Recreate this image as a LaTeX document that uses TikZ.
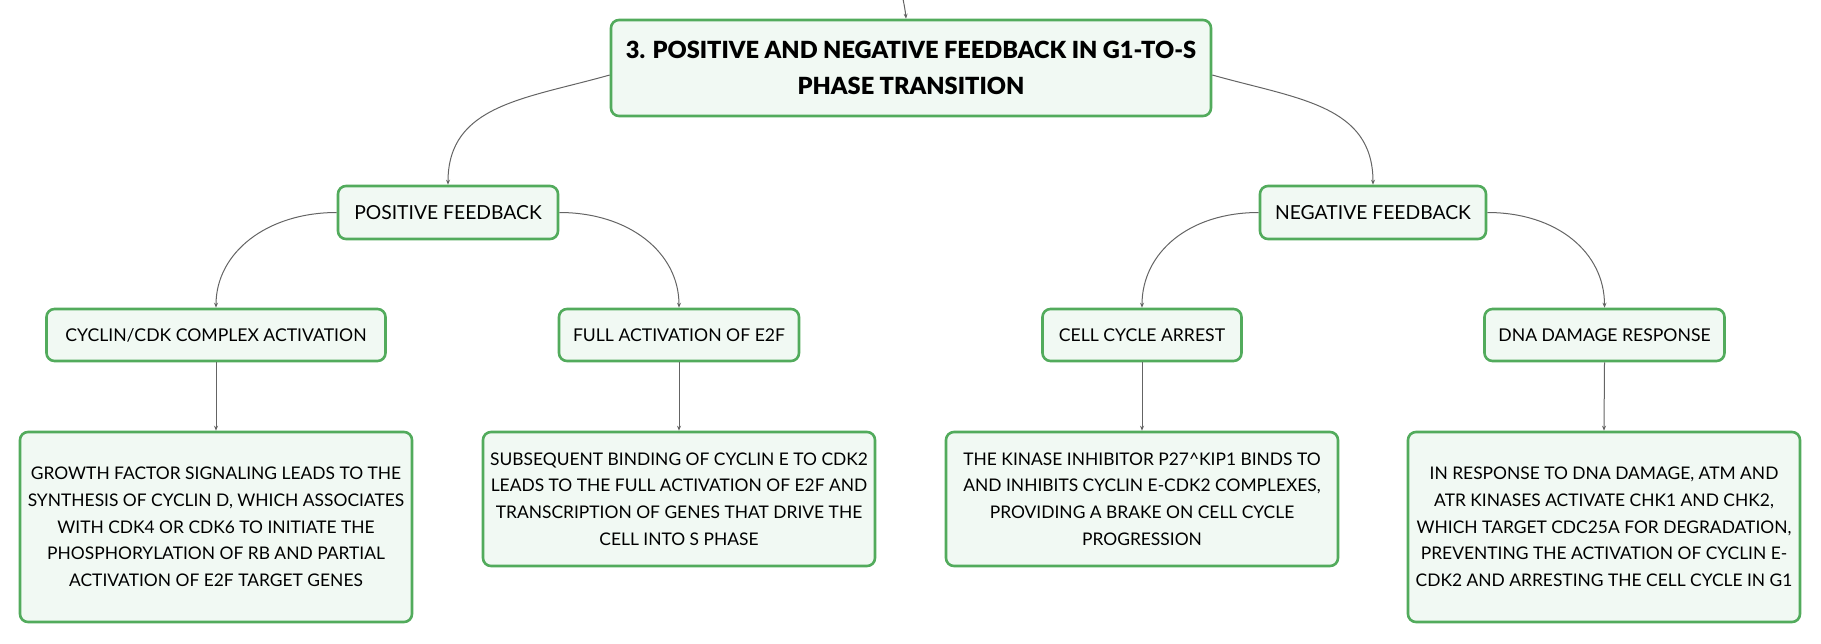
\documentclass[tikz,border=0pt]{standalone}
\usepackage{fontspec}
\setmainfont{Lato}
\IfFontExistsTF{Lato Black}{%
  \newfontfamily\titlefont{Lato Black}\def\titlesize{23.6}}{%
  \newfontfamily\titlefont{Lato Bold}[FakeBold=1.2]\def\titlesize{24}}
\usetikzlibrary{arrows.meta,calc}
\definecolor{boxgreen}{RGB}{82,171,92}
\definecolor{boxfill}{RGB}{241,249,243}
\definecolor{linkgray}{RGB}{100,100,100}
\tikzset{
  mmbox/.style={draw=boxgreen, fill=boxfill, line width=2.6pt, rounded corners=8pt,
    align=center, inner sep=0pt, text=black},
  titlebox/.style={mmbox, minimum width=600pt, minimum height=96pt,
    font=\titlefont\fontsize{\titlesize}{36.5}\selectfont},
  mainbox/.style={mmbox, minimum height=53pt, font=\fontsize{19.3}{26}\selectfont},
  labelbox/.style={mmbox, minimum height=52pt, font=\fontsize{17.6}{26}\selectfont},
  leafbox/.style={mmbox, minimum width=392pt, font=\fontsize{17.4}{26.7}\selectfont},
  link/.style={draw=linkgray, line width=1pt, -{Stealth[length=5pt,width=4pt]}}
}
\begin{document}
\begin{tikzpicture}[x=1pt,y=-1pt]
\useasboundingbox (0,0) rectangle (1821,643);
\node[titlebox] (title) at (911,68) {3. POSITIVE AND NEGATIVE FEEDBACK IN G1-TO-S\\PHASE TRANSITION};
\node[mainbox, minimum width=220pt] (pos) at (448,212.5) {POSITIVE FEEDBACK};
\node[mainbox, minimum width=226pt] (neg) at (1373,212.5) {NEGATIVE FEEDBACK};
\node[labelbox, minimum width=339pt] (cdk) at (216,335) {CYCLIN/CDK COMPLEX ACTIVATION};
\node[labelbox, minimum width=240pt] (e2f) at (679,335) {FULL ACTIVATION OF E2F};
\node[labelbox, minimum width=199pt] (arrest) at (1142,335) {CELL CYCLE ARREST};
\node[labelbox, minimum width=240pt] (dna) at (1604.5,335) {DNA DAMAGE RESPONSE};
\node[leafbox, minimum height=190pt] (l1) at (216,527) {GROWTH FACTOR SIGNALING LEADS TO THE\\SYNTHESIS OF CYCLIN D, WHICH ASSOCIATES\\WITH CDK4 OR CDK6 TO INITIATE THE\\PHOSPHORYLATION OF RB AND PARTIAL\\ACTIVATION OF E2F TARGET GENES};
\node[leafbox, minimum height=134pt] (l2) at (679,499) {SUBSEQUENT BINDING OF CYCLIN E TO CDK2\\LEADS TO THE FULL ACTIVATION OF E2F AND\\TRANSCRIPTION OF GENES THAT DRIVE THE\\CELL INTO S PHASE};
\node[leafbox, minimum height=134pt] (l3) at (1142,499) {THE KINASE INHIBITOR P27\^{}KIP1 BINDS TO\\AND INHIBITS CYCLIN E-CDK2 COMPLEXES,\\PROVIDING A BRAKE ON CELL CYCLE\\PROGRESSION};
\node[leafbox, minimum height=190pt] (l4) at (1604,527) {IN RESPONSE TO DNA DAMAGE, ATM AND\\ATR KINASES ACTIVATE CHK1 AND CHK2,\\WHICH TARGET CDC25A FOR DEGRADATION,\\PREVENTING THE ACTIVATION OF CYCLIN E-\\CDK2 AND ARRESTING THE CELL CYCLE IN G1};
\coordinate (topsrc) at (897,-30);
\draw[link] (topsrc) .. controls +(3,15) and +(-1,-12) .. ($(title.north)+(-5,0)$);
\draw[link] ($(title.west)+(0,7)$) .. controls +(-85,24) and +(0,-80) .. (pos.north);
\draw[link] ($(title.east)+(0,7)$) .. controls +(85,24) and +(0,-80) .. (neg.north);
\draw[link] (pos.west) .. controls +(-70,0) and +(0,-55) .. (cdk.north);
\draw[link] (pos.east) .. controls +(70,0) and +(0,-55) .. (e2f.north);
\draw[link] (neg.west) .. controls +(-70,0) and +(0,-55) .. (arrest.north);
\draw[link] (neg.east) .. controls +(70,0) and +(0,-55) .. (dna.north);
\draw[link] (cdk.south) -- (l1.north);
\draw[link] (e2f.south) -- (l2.north);
\draw[link] (arrest.south) -- (l3.north);
\draw[link] (dna.south) -- (l4.north);
\end{tikzpicture}
\end{document}
